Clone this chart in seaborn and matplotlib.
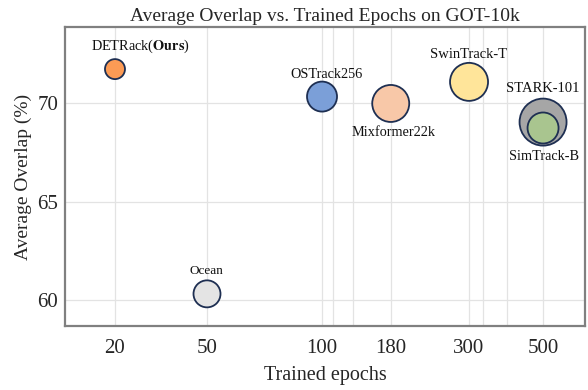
import matplotlib
matplotlib.use('Agg')
import matplotlib.pyplot as plt
import numpy as np
import pandas as pd
import seaborn as sns

# data
trackers = ['DETRack', 'Ocean', 'OSTrack256', 'Mixformer22k', 'SwinTrack-T', 'STARK-101', 'SimTrack-B']
epochs = [20, 50, 100, 180, 300, 500, 500]
overlap = [71.75, 60.3, 70.35, 70.0, 71.1, 69.05, 68.75]
bubble = [20, 27, 30, 37, 38, 47, 31]  # marker diameter in px
colors = ['#fc9b55', '#e4e4e4', '#7b9fd8', '#f8c8a8', '#ffe59a', '#a6a6a6', '#a9c58f']
labels = ['DETRack', 'Ocean', 'OSTrack256', 'Mixformer22k', 'SwinTrack-T', 'STARK-101', 'SimTrack-B']
label_off = [(25, 23), (-1, 23), (4, 22), (3, -29), (-1, 27), (0, 34), (1, -29)]
label_size = [10.3, 9.5, 10.3, 10.3, 10.5, 10.5, 10.3]

xticks = [20, 50, 100, 180, 300, 500]
yticks = [60, 65, 70]

df = pd.DataFrame({'tracker': trackers, 'epochs': epochs, 'overlap': overlap,
                   'bubble': bubble})

# the epochs axis in the figure is neither linear nor log: anchor the tick spacing
anchor_ep = np.log([12.2, 20, 50, 100, 180, 300, 500, 668])
anchor_pos = np.array([65, 115, 207, 322, 390.7, 469, 543, 585], dtype=float)


def fwd(x):
    x = np.clip(np.asarray(x, dtype=float), 1e-3, None)
    return np.interp(np.log(x), anchor_ep, anchor_pos)


def inv(p):
    return np.exp(np.interp(p, anchor_pos, anchor_ep))


sns.set_theme(style='white')
plt.rcParams['font.family'] = ['Liberation Serif', 'DejaVu Serif']
plt.rcParams['mathtext.fontset'] = 'stix'

fig, ax = plt.subplots(figsize=(5.88, 3.9), dpi=100)
fig.subplots_adjust(left=0.1105, right=0.995, bottom=0.164, top=0.931)

ax.set_xscale('function', functions=(fwd, inv))
ax.set_xlim(12.2, 668)
ax.set_ylim(58.66, 73.9)

px2pt = 72 / 100
sizes = {t: (d * px2pt) ** 2 for t, d in zip(trackers, bubble)}
palette = dict(zip(trackers, colors))
sns.scatterplot(data=df, x='epochs', y='overlap', hue='tracker', palette=palette,
                size='tracker', sizes=sizes, edgecolor='#1e2f52', linewidth=1.3,
                legend=False, ax=ax, zorder=3, alpha=1)

for i, t in enumerate(trackers):
    kw = dict(xy=(epochs[i], overlap[i]), xytext=label_off[i], textcoords='offset pixels',
              ha='center', va='center', fontsize=label_size[i], color='#111111', zorder=4)
    if t == 'DETRack':
        ax.annotate(r'DETRack($\mathbf{Ours}$)', **kw)
    else:
        ax.annotate(labels[i], **kw)

ax.set_xticks(xticks)
ax.set_xticklabels([str(v) for v in xticks])
ax.set_xticks([110, 130, 330, 390], minor=True)
ax.set_yticks(yticks)
ax.grid(True, which='both', axis='x', color='#e3e3e3', lw=0.9)
ax.grid(True, which='major', axis='y', color='#e3e3e3', lw=0.9)
ax.set_axisbelow(True)
ax.tick_params(axis='x', which='both', length=0, labelsize=15, pad=9)
ax.tick_params(axis='y', direction='in', length=5, width=0.8, color='#999999',
               labelsize=15, pad=5)
ax.tick_params(axis='y', which='minor', length=0)

for s in ax.spines.values():
    s.set_color('#808080')
    s.set_linewidth(1.6)

ax.set_title('Average Overlap vs. Trained Epochs on GOT-10k', fontsize=14, pad=4)
ax.set_xlabel('Trained epochs', fontsize=14.5, labelpad=6)
ax.set_ylabel('Average Overlap (%)', fontsize=14, labelpad=4)

fig.savefig('out.png', dpi=100)
